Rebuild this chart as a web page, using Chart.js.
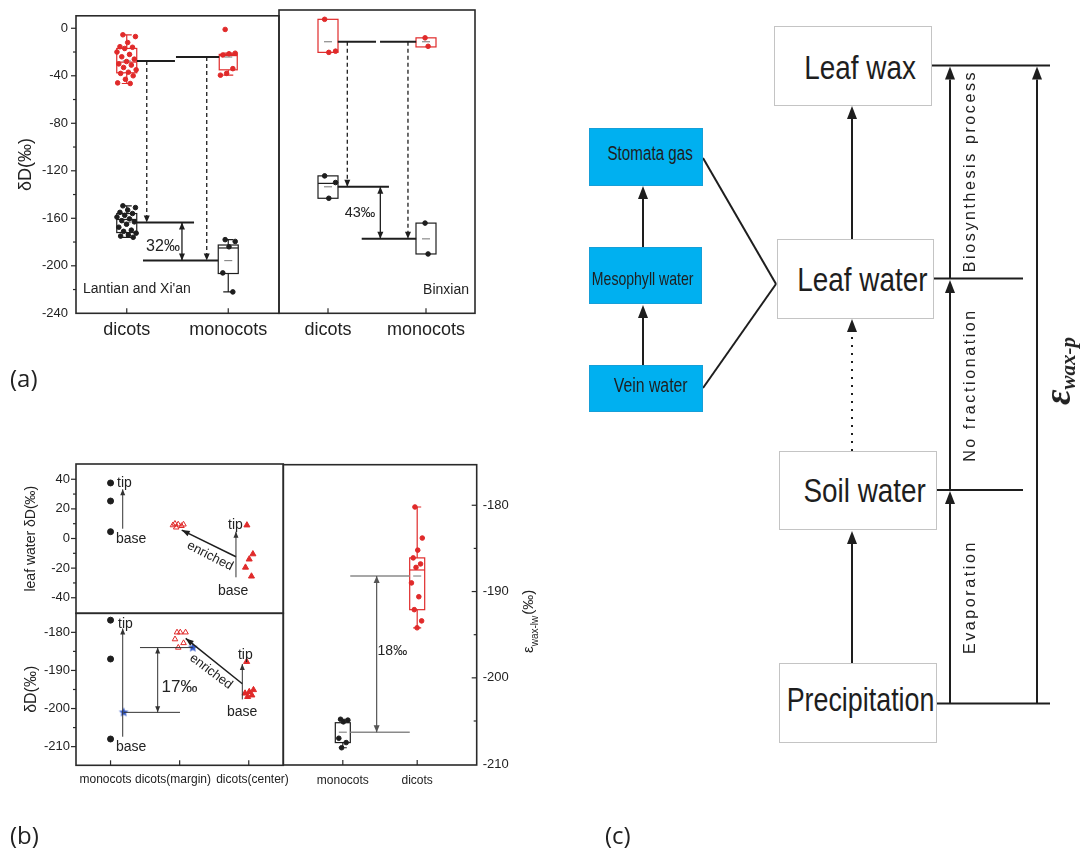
<!DOCTYPE html>
<html>
<head>
<meta charset="utf-8">
<script src="https://cdn.jsdelivr.net/npm/chart.js@4.4.1/dist/chart.umd.min.js"></script>
<style>
  html, body { margin: 0; padding: 0; background: #fff; }
  #page { position: relative; width: 1083px; height: 850px; overflow: hidden; font-family: "Liberation Sans", Arial, sans-serif; color: #222; }
  canvas.layer { position: absolute; left: 0; top: 0; }
  .box { position: absolute; box-sizing: border-box; border: 1px solid #c4c4c4; background: #fff; display: flex; align-items: center; justify-content: center;
         font-family: "Liberation Sans", Arial, sans-serif; color: #1e1e1e; white-space: nowrap; }
  .box span { display: inline-block; transform: scaleX(0.82); }
  .big { font-size: 34px; padding-left: 14px; }
  .blue { background: #00b0f0; border-color: #169fd8; font-size: 20px; }
  .blue span { transform: scaleX(0.76); }
  .vt { position: absolute; transform: translate(-50%, -50%) rotate(-90deg); white-space: nowrap; font-size: 16px; letter-spacing: 2.6px; color: #222; }
  .plabel { position: absolute; font-family: "Open Sans", sans-serif; font-size: 24px; line-height: 28px; color: #222; }
  .eps { font-family: "Liberation Serif", serif; font-weight: bold; font-style: italic; letter-spacing: 0; }
</style>
</head>
<body>
<div id="page">
  <canvas id="aLeft" class="layer" width="1083" height="850"></canvas>
  <canvas id="aRight" class="layer" width="1083" height="850"></canvas>
  <canvas id="bTop" class="layer" width="1083" height="850"></canvas>
  <canvas id="bBottom" class="layer" width="1083" height="850"></canvas>
  <canvas id="bRight" class="layer" width="1083" height="850"></canvas>
  <canvas id="diagram" class="layer" width="1083" height="850"></canvas>

  <div class="box big" style="left:774px;top:26px;width:158px;height:80px;padding-top:3px;"><span>Leaf wax</span></div>
  <div class="box big" style="left:777px;top:239px;width:157px;height:80px;"><span>Leaf water</span></div>
  <div class="box big" style="left:779px;top:451px;width:158px;height:79px;"><span>Soil water</span></div>
  <div class="box big" style="left:779px;top:663px;width:158px;height:80px;padding-left:6px;padding-bottom:8px;"><span style="transform:scaleX(0.79)">Precipitation</span></div>
  <div class="box blue" style="left:589px;top:128px;width:114px;height:58px;padding-left:8px;padding-bottom:8px;"><span>Stomata gas</span></div>
  <div class="box blue" style="left:589px;top:247px;width:113px;height:57px;padding-right:6px;padding-top:6px;font-size:19px;"><span style="transform:scaleX(0.74)">Mesophyll water</span></div>
  <div class="box blue" style="left:589px;top:365px;width:114px;height:47px;padding-left:10px;padding-bottom:6px;"><span style="transform:scaleX(0.79)">Vein water</span></div>

  <div class="vt" style="left:970px;top:171px;">Biosynthesis process</div>
  <div class="vt" style="left:970px;top:385px;">No fractionation</div>
  <div class="vt" style="left:970px;top:597px;">Evaporation</div>
  <div class="vt eps" style="left:1057px;top:371px;"><span style="font-size:38px">ε</span><span style="font-size:21px;position:relative;top:5px">wax-p</span></div>

  <div class="plabel" style="left:10px;top:364px;">(a)</div>
  <div class="plabel" style="left:10px;top:821px;">(b)</div>
  <div class="plabel" style="left:605px;top:821px;">(c)</div>
</div>

<script>
// ---- data ----
const aCats = ['dicots', 'monocots'];
const aTicks = [0, -40, -80, -120, -160, -200, -240];

// Lantian and Xi'an: leaf water (red) and leaf wax (black) samples
const latWaterDicots = [-5.5, -7, -12, -15.5, -16, -17, -20, -22, -24, -26, -28, -30, -31, -33, -35, -37, -38, -40, -43, -46, -46.5];
const latWaterMonocots = [-1, -21, -21.5, -22.5, -34, -38, -39.5];
const latWaxDicots = [-149.5, -151, -153, -155, -156, -157.5, -159, -160.5, -162, -163, -165, -167.5, -170, -171, -172.5, -174, -175, -176];
const latWaxMonocots = [-178, -179.5, -184, -206, -222];
// box stats: [min, q1, median, q3, max, mean]
const latWaterDicotsBox = [-46.5, -37.5, -28.5, -17, -5.5, -27.5];
const latWaterMonocotsBox = [-39.5, -35, -23, -22, -21, -24.2];
const latWaxDicotsBox = [-176, -172, -161, -156, -149.5, -163.6];
const latWaxMonocotsBox = [-222, -206.5, -185, -182.5, -178, -195.6];

// Binxian
const binWaterDicots = [2.8, -23.5, -24.5];
const binWaterMonocots = [-12.5, -19.5];
const binWaxDicots = [-126.5, -132, -145];
const binWaxMonocots = [-165.5, -191];
const binWaterDicotsBox = [-24.5, -24.5, -15, 2.8, 2.8, -15.7];
const binWaterMonocotsBox = [-20, -20, -16, -12.5, -12.5, -15.7];
const binWaxDicotsBox = [-145, -145, -132.7, -126.5, -126.5, -135.5];
const binWaxMonocotsBox = [-191, -191, -178.8, -165.5, -165.5, -178.5];

// (b) leaf water and leaf wax along the leaf
const bCats = ['monocots', 'dicots(margin)', 'dicots(center)'];
const lwTicks = [40, 20, 0, -20, -40];
const wxTicks = [-180, -190, -200, -210];
const lwMonocots = [37.5, 25.3, 4.6];
const lwMargin = [10, 9.5, 9.5, 9, 8.5, 7.5];
const lwCenter = [9, -10.5, -14, -19.5, -25.5];
const wxMonocots = [-176.8, -187, -208];
const wxMargin = [-180, -180, -180, -181.8, -182.8, -184];
const wxCenter = [-187.7, -195.1, -195.6, -196, -196.5, -196.9];
const wxMeans = [-201, -184];           // blue stars: monocots, dicots(margin)

// (b) apparent fractionation
const epsCats = ['monocots', 'dicots'];
const epsTicks = [-180, -190, -200, -210];
const epsMonocots = [-204.8, -204.9, -205.1, -207, -207.5, -208.1];
const epsDicots = [-180.2, -183.8, -185.2, -186.1, -186.8, -187.2, -189, -190.6, -192.1, -193.4, -194.2];
const epsMonocotsBox = [-208.1, -207.5, -206.2, -205.2, -204.8, -206.3];
const epsDicotsBox = [-194.2, -192.1, -187.5, -186.1, -180.2, -188.2];

// ---- styling / helpers ----
const RED = '#e02a2a', BLACK = '#1e1e1e', GREY = '#8a8a8a', BLUE = '#2f56c8';
const W = 1083, H = 850;
const FONT = '"Liberation Sans", Arial, sans-serif';

Chart.defaults.font.family = FONT;
Chart.defaults.color = '#222';
Chart.defaults.animation = false;
Chart.defaults.events = [];
Chart.defaults.plugins.legend.display = false;
Chart.defaults.plugins.tooltip.enabled = false;

// deterministic horizontal jitter inside a box
const jit = i => ((i * 0.618034 + 0.31) % 1) - 0.5;
const spread = (vals, cat, width) => vals.map((v, i) => ({ x: cat + jit(i) * width, y: v }));
const atCat = (vals, cat) => vals.map(v => ({ x: cat, y: v }));

function starImage(r, color) {
  const c = document.createElement('canvas');
  c.width = c.height = 2 * r + 2;
  const g = c.getContext('2d');
  g.fillStyle = color;
  g.beginPath();
  for (let i = 0; i < 10; i++) {
    const rr = i % 2 ? r * 0.45 : r, a = -Math.PI / 2 + i * Math.PI / 5;
    g.lineTo(r + 1 + rr * Math.cos(a), r + 1 + rr * Math.sin(a));
  }
  g.closePath();
  g.fill();
  return c;
}

function dots(data, color, r, style, hollow) {
  return {
    data, pointRadius: r, pointStyle: style || 'circle', borderWidth: 1,
    backgroundColor: hollow ? 'rgba(0,0,0,0)' : color, borderColor: color
  };
}

function xScale(min, max, cats, o) {
  return {
    type: 'linear', min, max, display: o.show !== false,
    afterBuildTicks: s => { s.ticks = cats.map((c, i) => ({ value: i + 1 })); },
    afterFit: s => { if (o.h) s.height = o.h; },
    grid: { display: false, drawTicks: false }, border: { display: false },
    ticks: { display: o.labels !== false, callback: v => cats[v - 1], font: { size: o.fs }, color: '#222', padding: o.pad, maxRotation: 0, autoSkip: false }
  };
}

function yScale(min, max, ticks, o) {
  return {
    type: 'linear', min, max, position: o.pos || 'left', display: o.show !== false,
    afterBuildTicks: s => { s.ticks = ticks.map(v => ({ value: v })); },
    afterFit: s => { if (o.w) s.width = o.w; },
    grid: { display: false, drawTicks: false }, border: { display: false },
    ticks: { callback: v => String(v), font: { size: o.fs }, color: '#222', padding: o.pad },
    title: o.title ? { display: true, text: o.title, font: { size: o.tfs }, color: '#222', padding: { top: o.tpad, bottom: 0 } } : { display: false }
  };
}

function head(ctx, x1, y1, x2, y2, len, hw) {
  const a = Math.atan2(y2 - y1, x2 - x1);
  const bx = x2 - len * Math.cos(a), by = y2 - len * Math.sin(a);
  ctx.beginPath();
  ctx.moveTo(x2, y2);
  ctx.lineTo(bx + hw * Math.sin(a), by - hw * Math.cos(a));
  ctx.lineTo(bx - hw * Math.sin(a), by + hw * Math.cos(a));
  ctx.closePath();
  ctx.fill();
}

// frame around plot area + tick marks (major / minor, in or out)
const framePlugin = {
  id: 'frame',
  afterDraw(chart, args, opts) {
    const { ctx, chartArea: a } = chart;
    ctx.save();
    ctx.strokeStyle = '#2a2a2a';
    ctx.lineWidth = 1.6;
    ctx.strokeRect(a.left, a.top, a.right - a.left, a.bottom - a.top);
    ctx.lineWidth = 1.2;
    (opts.ticks || []).forEach(t => {
      const s = chart.scales[t.s];
      const list = t.major.map(v => [v, 5]);
      if (t.step) {
        for (let v = Math.ceil(s.min / t.step) * t.step; v <= s.max; v += t.step) {
          if (!t.major.includes(v)) list.push([v, 3]);
        }
      }
      list.forEach(([v, len]) => {
        const p = s.getPixelForValue(v);
        const sign = t.dir === 'in' ? 1 : -1;
        ctx.beginPath();
        if (t.side === 'left') {
          if (p < a.top + 1 || p > a.bottom - 1) return;
          ctx.moveTo(a.left, p); ctx.lineTo(a.left + sign * len, p);
        } else if (t.side === 'right') {
          if (p < a.top + 1 || p > a.bottom - 1) return;
          ctx.moveTo(a.right, p); ctx.lineTo(a.right - sign * len, p);
        } else {
          ctx.moveTo(p, a.bottom); ctx.lineTo(p, a.bottom - sign * len);
        }
        ctx.stroke();
      });
    });
    ctx.restore();
  }
};

// box-and-whisker drawn from stats arrays via the chart scales
const boxPlugin = {
  id: 'boxes',
  beforeDatasetsDraw(chart, args, opts) {
    const { ctx } = chart;
    const sx = chart.scales.x, sy = chart.scales.y;
    ctx.save();
    (opts.items || []).forEach(b => {
      const [mn, q1, md, q3, mx, mean] = b.s;
      const cx = sx.getPixelForValue(b.x), hw = b.w / 2, cap = b.cap || 5;
      const Y = v => sy.getPixelForValue(v);
      ctx.strokeStyle = b.c;
      ctx.lineWidth = 1.2;
      ctx.beginPath();
      if (mx > q3) { ctx.moveTo(cx, Y(q3)); ctx.lineTo(cx, Y(mx)); ctx.moveTo(cx - cap, Y(mx)); ctx.lineTo(cx + cap, Y(mx)); }
      if (mn < q1) { ctx.moveTo(cx, Y(q1)); ctx.lineTo(cx, Y(mn)); ctx.moveTo(cx - cap, Y(mn)); ctx.lineTo(cx + cap, Y(mn)); }
      ctx.stroke();
      ctx.fillStyle = '#fff';
      ctx.fillRect(cx - hw, Y(q3), 2 * hw, Y(q1) - Y(q3));
      ctx.strokeRect(cx - hw, Y(q3), 2 * hw, Y(q1) - Y(q3));
      if (b.median !== false) {
        ctx.beginPath(); ctx.moveTo(cx - hw, Y(md)); ctx.lineTo(cx + hw, Y(md)); ctx.stroke();
      }
      ctx.strokeStyle = GREY;
      ctx.beginPath(); ctx.moveTo(cx - 4, Y(mean)); ctx.lineTo(cx + 4, Y(mean)); ctx.stroke();
    });
    ctx.restore();
  }
};

// annotation lines, arrows and labels in data coordinates
const overlayPlugin = {
  id: 'overlay',
  afterDatasetsDraw(chart, args, opts) {
    const { ctx } = chart;
    const sx = chart.scales.x, sy = chart.scales.y;
    const X = v => sx.getPixelForValue(v), Y = v => sy.getPixelForValue(v);
    ctx.save();
    (opts.items || []).forEach(it => {
      if (it.t === 'line') {
        const x1 = X(it.x1), y1 = Y(it.y1), x2 = X(it.x2), y2 = Y(it.y2);
        ctx.strokeStyle = ctx.fillStyle = it.color || BLACK;
        ctx.lineWidth = it.w || 1.5;
        ctx.setLineDash(it.dash || []);
        ctx.beginPath(); ctx.moveTo(x1, y1); ctx.lineTo(x2, y2); ctx.stroke();
        ctx.setLineDash([]);
        const hl = it.hl || 7, hh = it.hh || 3;
        if (it.head) head(ctx, x1, y1, x2, y2, hl, hh);
        if (it.head === 2) head(ctx, x2, y2, x1, y1, hl, hh);
      } else {
        ctx.save();
        ctx.translate(X(it.x), Y(it.y));
        if (it.rot) ctx.rotate(it.rot * Math.PI / 180);
        ctx.fillStyle = it.color || '#222';
        ctx.font = `${it.fs || 14}px ${FONT}`;
        ctx.textAlign = it.align || 'left';
        ctx.textBaseline = 'middle';
        ctx.fillText(it.s, 0, 0);
        ctx.restore();
      }
    });
    ctx.restore();
  }
};

const L = (x1, y1, x2, y2, extra) => Object.assign({ t: 'line', x1, y1, x2, y2 }, extra || {});
const T = (x, y, s, extra) => Object.assign({ t: 'text', x, y, s }, extra || {});
const dashed = { w: 1.3, dash: [4, 3], head: 1, hl: 7, hh: 3 };

function build(id, area, cfg) {
  const yw = cfg.yw || 0, xh = cfg.xh || 0;
  const padding = cfg.yRight
    ? { left: area[0], top: area[1], right: W - area[2] - yw, bottom: H - area[3] - xh }
    : { left: area[0] - yw, top: area[1], right: W - area[2], bottom: H - area[3] - xh };
  return new Chart(document.getElementById(id), {
    type: 'scatter',
    data: { datasets: cfg.datasets },
    options: {
      responsive: false,
      layout: { padding },
      scales: cfg.scales,
      plugins: {
        frame: { ticks: cfg.ticks || [] },
        boxes: { items: cfg.boxes || [] },
        overlay: { items: cfg.overlay || [] }
      }
    },
    plugins: [framePlugin, boxPlugin, overlayPlugin].concat(cfg.extra || [])
  });
}

// ---- (a) Lantian and Xi'an ----
build('aLeft', [76, 10, 279, 313.3], {
  yw: 76, xh: 32,
  scales: {
    x: xScale(0.5, 2.5, aCats, { fs: 18, pad: 6, h: 32 }),
    y: yScale(-240, 10.5, aTicks, { w: 76, fs: 13, pad: 8, title: 'δD(‰)', tfs: 18, tpad: 15 })
  },
  datasets: [
    dots(spread(latWaterDicots, 1, 0.2), RED, 2.3),
    dots(spread(latWaterMonocots, 2, 0.16), RED, 2.3),
    dots(spread(latWaxDicots, 1, 0.2), BLACK, 2.3),
    dots(spread(latWaxMonocots, 2, 0.16), BLACK, 2.3)
  ],
  boxes: [
    { x: 1, s: latWaterDicotsBox, c: RED, w: 20 },
    { x: 2, s: latWaterMonocotsBox, c: RED, w: 18 },
    { x: 1, s: latWaxDicotsBox, c: BLACK, w: 20 },
    { x: 2, s: latWaxMonocotsBox, c: BLACK, w: 20 }
  ],
  ticks: [
    { s: 'y', side: 'left', dir: 'out', major: aTicks, step: 20 },
    { s: 'x', side: 'bottom', dir: 'in', major: [1, 2] }
  ],
  overlay: [
    L(1.1, latWaterDicotsBox[5], 1.475, latWaterDicotsBox[5], { w: 2 }),
    L(1.485, latWaterMonocotsBox[5], 1.91, latWaterMonocotsBox[5], { w: 2 }),
    L(1.1, latWaxDicotsBox[5], 1.663, latWaxDicotsBox[5], { w: 2 }),
    L(1.16, latWaxMonocotsBox[5], 1.9, latWaxMonocotsBox[5], { w: 2 }),
    L(1.197, latWaterDicotsBox[5], 1.197, latWaxDicotsBox[5], dashed),
    L(1.788, latWaterMonocotsBox[5], 1.788, latWaxMonocotsBox[5], dashed),
    L(1.544, latWaxDicotsBox[5], 1.544, latWaxMonocotsBox[5], { w: 1.3, head: 2, hl: 7, hh: 3 }),
    T(1.357, -183.7, '32‰', { fs: 16, align: 'center' }),
    T(0.569, -219.3, "Lantian and Xi'an", { fs: 14 })
  ]
});

// ---- (a) Binxian ----
build('aRight', [279, 10, 475, 313.3], {
  yw: 0, xh: 32,
  scales: {
    x: xScale(0.5, 2.5, aCats, { fs: 18, pad: 6, h: 32 }),
    y: yScale(-240, 10.5, aTicks, { show: false })
  },
  datasets: [
    dots(spread(binWaterDicots, 1, 0.18), RED, 2.3),
    dots(spread(binWaterMonocots, 2, 0.05), RED, 2.3),
    dots(spread(binWaxDicots, 1, 0.18), BLACK, 2.3),
    dots(spread(binWaxMonocots, 2, 0.05), BLACK, 2.3)
  ],
  boxes: [
    { x: 1, s: binWaterDicotsBox, c: RED, w: 20, median: false },
    { x: 2, s: binWaterMonocotsBox, c: RED, w: 20, median: false },
    { x: 1, s: binWaxDicotsBox, c: BLACK, w: 20 },
    { x: 2, s: binWaxMonocotsBox, c: BLACK, w: 20, median: false }
  ],
  ticks: [{ s: 'x', side: 'bottom', dir: 'in', major: [1, 2] }],
  overlay: [
    L(1.1, binWaterDicotsBox[5], 1.49, binWaterDicotsBox[5], { w: 2 }),
    L(1.531, binWaterMonocotsBox[5], 1.9, binWaterMonocotsBox[5], { w: 2 }),
    L(1.1, binWaxDicotsBox[5], 1.622, binWaxDicotsBox[5], { w: 2 }),
    L(1.344, binWaxMonocotsBox[5], 1.9, binWaxMonocotsBox[5], { w: 2 }),
    L(1.197, binWaterDicotsBox[5], 1.197, binWaxDicotsBox[5], dashed),
    L(1.816, binWaterMonocotsBox[5], 1.816, binWaxMonocotsBox[5], dashed),
    L(1.534, binWaxDicotsBox[5], 1.534, binWaxMonocotsBox[5], { w: 1.3, head: 2, hl: 7, hh: 3 }),
    T(1.327, -157.3, '43‰', { fs: 14.5, align: 'center' }),
    T(2.439, -220.9, 'Binxian', { fs: 14, align: 'right' })
  ]
});

// ---- (b) leaf water ----
const thin = { w: 1, color: '#333', head: 1, hl: 6, hh: 2.5 };
build('bTop', [76, 464, 283.3, 613.3], {
  yw: 76, xh: 0,
  scales: {
    x: xScale(0.5, 3.5, bCats, { show: false }),
    y: yScale(-50.5, 50.3, lwTicks, { w: 76, fs: 13, pad: 6, title: 'leaf water δD(‰)', tfs: 14, tpad: 23 })
  },
  datasets: [
    dots(atCat(lwMonocots, 1), BLACK, 3),
    dots(spread(lwMargin, 1.97, 0.2), RED, 3.2, 'triangle', true),
    dots(spread(lwCenter, 3, 0.14), RED, 3.5, 'triangle')
  ],
  ticks: [{ s: 'y', side: 'left', dir: 'out', major: lwTicks, step: 10 }],
  overlay: [
    L(1.176, 6.6, 1.176, 33.2, thin),
    T(1.094, 37.5, 'tip'), T(1.079, -0.7, 'base'),
    L(2.815, -12.3, 2.03, 5.7, { w: 1.5, head: 1, hl: 8, hh: 3 }),
    T(2.44, -11.8, 'enriched', { fs: 13, align: 'center', rot: 27 }),
    L(2.815, -26.2, 2.815, 4.6, thin),
    T(2.7, 9.1, 'tip'), T(2.555, -35.5, 'base')
  ]
});

// ---- (b) leaf wax ----
build('bBottom', [76, 613.3, 283.3, 765.3], {
  yw: 76, xh: 30,
  scales: {
    x: xScale(0.5, 3.5, bCats, { fs: 12, pad: 8, h: 30, labels: false }),
    y: yScale(-214.9, -175, wxTicks, { w: 76, fs: 13, pad: 6, title: 'δD(‰)', tfs: 16, tpad: 22 })
  },
  datasets: [
    dots(atCat(wxMonocots, 1), BLACK, 3),
    dots(spread(wxMargin, 2.0, 0.2), RED, 3.2, 'triangle', true),
    dots(spread(wxCenter, 3, 0.16), RED, 3.5, 'triangle'),
    dots(wxMeans.map((v, i) => ({ x: i + 1.19, y: v })), BLUE, 5, starImage(5, BLUE))
  ],
  ticks: [
    { s: 'y', side: 'left', dir: 'out', major: wxTicks, step: 5 },
    { s: 'x', side: 'bottom', dir: 'in', major: [1, 2, 3] }
  ],
  overlay: [
    L(1.176, -207.4, 1.176, -179, thin),
    T(1.108, -177.8, 'tip'), T(1.079, -210.2, 'base'),
    L(1.426, wxMeans[1], 2.19, wxMeans[1], { w: 1, color: '#333' }),
    L(1.19, wxMeans[0], 2.005, wxMeans[0], { w: 1, color: '#333' }),
    L(1.682, wxMeans[1], 1.682, wxMeans[0], { w: 1, color: '#333', head: 2, hl: 6, hh: 2.5 }),
    T(1.998, -194.5, '17‰', { fs: 17, align: 'center' }),
    L(2.907, -193.5, 2.088, -181.6, { w: 1.5, head: 1, hl: 8, hh: 3 }),
    T(2.454, -190.3, 'enriched', { fs: 13, align: 'center', rot: 37 }),
    L(2.907, -197.6, 2.907, -188.3, thin),
    T(2.844, -185.9, 'tip'), T(2.685, -201, 'base'),
    // category labels, spaced as in the figure
    T(0.927, -218.7, bCats[0], { fs: 12, align: 'center' }),
    T(1.904, -218.7, bCats[1], { fs: 12, align: 'center' }),
    T(3.054, -218.7, bCats[2], { fs: 12, align: 'center' })
  ]
});

// ---- (b) epsilon wax-leaf water ----
const epsTitle = {
  id: 'epsTitle',
  afterDraw(chart) {
    const { ctx, chartArea: a } = chart;
    const f1 = `15px ${FONT}`, f2 = `10px ${FONT}`;
    ctx.save();
    ctx.fillStyle = '#222';
    ctx.font = f1;
    const w1 = ctx.measureText('ε').width, w3 = ctx.measureText('(‰)').width;
    ctx.font = f2;
    const w2 = ctx.measureText('wax-lw').width;
    ctx.translate(a.right + 56, (a.top + a.bottom) / 2 + 7 + (w1 + w2 + w3) / 2);
    ctx.rotate(-Math.PI / 2);
    ctx.textBaseline = 'alphabetic';
    ctx.font = f1; ctx.fillText('ε', 0, 0);
    ctx.font = f2; ctx.fillText('wax-lw', w1, 5);
    ctx.font = f1; ctx.fillText('(‰)', w1 + w2 + 1, 0);
    ctx.restore();
  }
};
build('bRight', [283.3, 464.7, 476.7, 765], {
  yw: 50, xh: 30, yRight: true,
  scales: {
    x: xScale(0.2, 2.8, epsCats, { fs: 12, pad: 8, h: 30 }),
    y: yScale(-210.1, -175.3, epsTicks, { pos: 'right', w: 50, fs: 13, pad: 6 })
  },
  datasets: [
    dots(spread(epsMonocots, 1, 0.16), BLACK, 2.3),
    dots(spread(epsDicots, 2, 0.16), RED, 2.3)
  ],
  boxes: [
    { x: 1, s: epsMonocotsBox, c: BLACK, w: 15, cap: 4, median: false },
    { x: 2, s: epsDicotsBox, c: RED, w: 15, cap: 4 }
  ],
  ticks: [
    { s: 'y', side: 'right', dir: 'in', major: epsTicks, step: 5 },
    { s: 'x', side: 'bottom', dir: 'in', major: [1, 2] }
  ],
  overlay: [
    L(1.1, epsDicotsBox[5], 1.9, epsDicotsBox[5], { w: 1.4, color: GREY }),
    L(1.1, epsMonocotsBox[5], 1.9, epsMonocotsBox[5], { w: 1.4, color: GREY }),
    L(1.455, epsDicotsBox[5], 1.455, epsMonocotsBox[5], { w: 1.2, color: '#555', head: 2, hl: 7, hh: 3 }),
    T(1.666, -196.9, '18‰', { fs: 14, align: 'center' })
  ],
  extra: [epsTitle]
});

// ---- (c) flow diagram ----
(function drawDiagram() {
  const g = document.getElementById('diagram').getContext('2d');
  g.strokeStyle = g.fillStyle = '#1e1e1e';
  g.lineWidth = 2;
  const seg = (x1, y1, x2, y2) => { g.beginPath(); g.moveTo(x1, y1); g.lineTo(x2, y2); g.stroke(); };
  const arrow = (x1, y1, x2, y2, dotted) => {
    const a = Math.atan2(y2 - y1, x2 - x1), len = 13, hw = 5;
    const bx = x2 - len * Math.cos(a), by = y2 - len * Math.sin(a);
    g.setLineDash(dotted ? [2, 6] : []);
    seg(x1, y1, bx, by);
    g.setLineDash([]);
    g.beginPath();
    g.moveTo(x2, y2);
    g.lineTo(bx + hw * Math.sin(a), by - hw * Math.cos(a));
    g.lineTo(bx - hw * Math.sin(a), by + hw * Math.cos(a));
    g.closePath();
    g.fill();
  };
  // leaf compartments
  arrow(643, 365, 643, 305);
  arrow(643, 247, 643, 186);
  seg(703, 158, 776, 284);
  seg(703, 388, 776, 284);
  // main chain
  arrow(852, 239, 852, 106);
  arrow(852, 451, 852, 319, true);
  arrow(852, 663, 852, 531);
  // fractionation steps
  seg(932, 65.5, 1050, 65.5);
  seg(934, 278.5, 1023, 278.5);
  seg(937, 490, 1023, 490);
  seg(937, 703.5, 1050, 703.5);
  arrow(950, 703.5, 950, 491);
  arrow(950, 490, 950, 280);
  arrow(950, 278.5, 950, 66.5);
  arrow(1037, 703.5, 1037, 66.5);
})();
</script>
</body>
</html>
